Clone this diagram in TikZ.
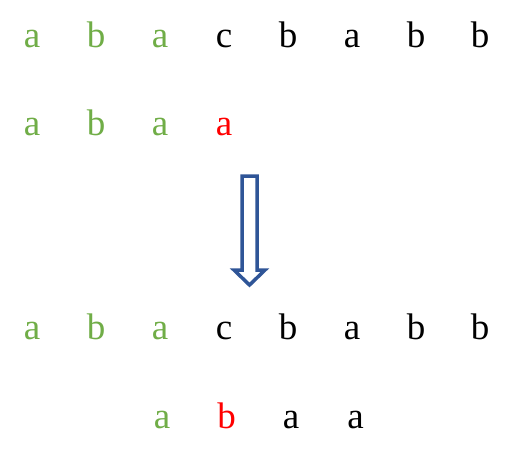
\documentclass[tikz,border=0pt]{standalone}
\usepackage{fontspec}
\setmainfont{Liberation Serif}
\definecolor{grn}{HTML}{70AD47}
\definecolor{arrblue}{HTML}{2F5597}
\begin{document}
\begin{tikzpicture}[x=1pt, y=-1pt, letter/.style={anchor=base, inner sep=0pt, font=\fontsize{37}{40}\selectfont}]
\useasboundingbox (0,0) rectangle (515,461);
% text row and pattern, before
\foreach \ch/\col [count=\i] in {a/grn,b/grn,a/grn,c/black,b/black,a/black,b/black,b/black}
  \node[letter, text=\col] (t\i) at ({32+64*(\i-1)},47) {\ch};
\foreach \ch/\col [count=\i] in {a/grn,b/grn,a/grn,a/red}
  \node[letter, text=\col] (p\i) at ({32+64*(\i-1)},135) {\ch};

\draw[arrblue, line width=3.5pt, line join=miter, fill=white] (242,176)--(257,176)--(257,270)--(265,270)--(249.5,285)--(234,270)--(242,270)--cycle;

% text row and pattern, after the shift
\foreach \ch/\col [count=\i] in {a/grn,b/grn,a/grn,c/black,b/black,a/black,b/black,b/black}
  \node[letter, text=\col] (u\i) at ({32+64*(\i-1)},339) {\ch};
\foreach \ch/\col [count=\i] in {a/grn,b/red,a/black,a/black}
  \node[letter, text=\col] (q\i) at ({162+64.5*(\i-1)},428) {\ch};
\end{tikzpicture}
\end{document}
